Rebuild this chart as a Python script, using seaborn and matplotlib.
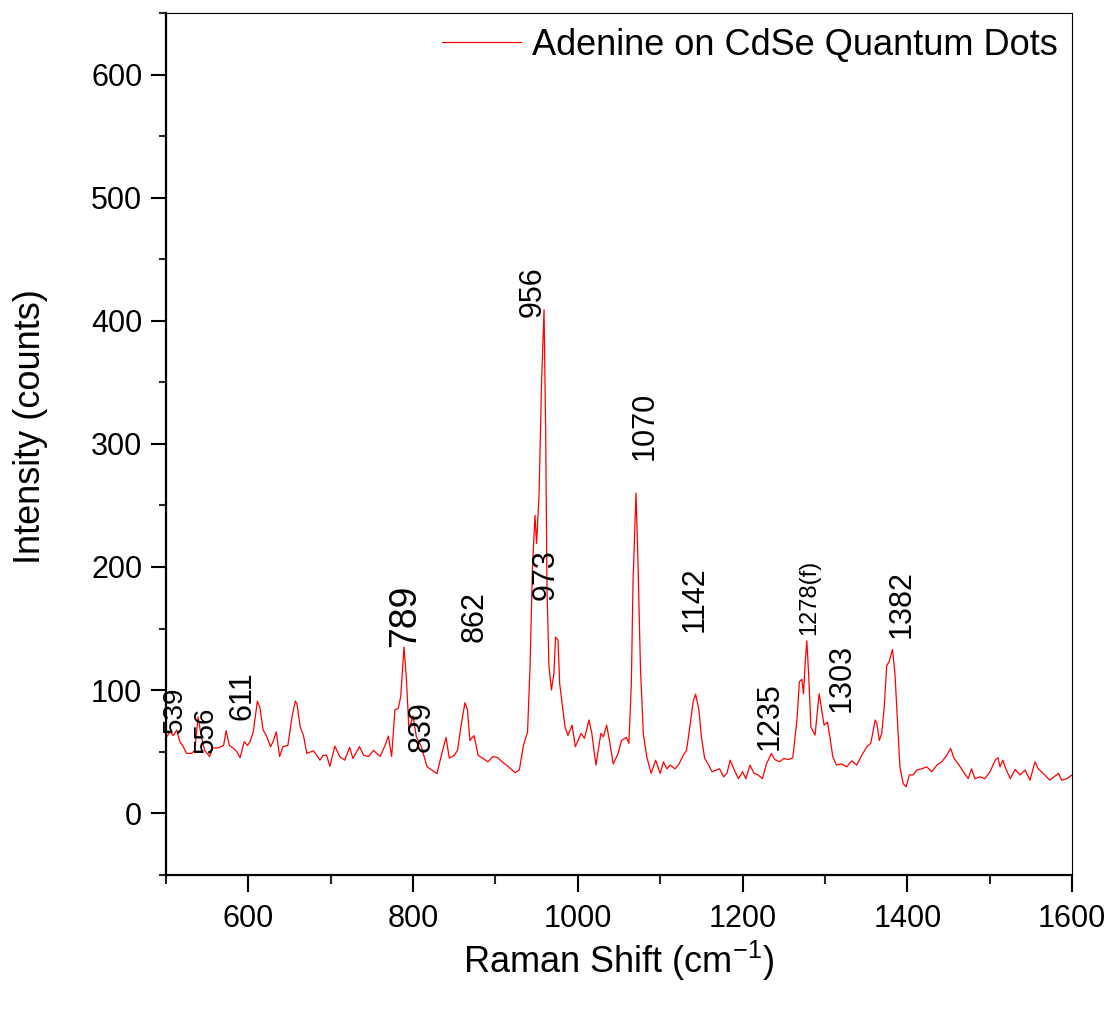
import matplotlib
matplotlib.use("Agg")

import numpy as np
import pandas as pd
import matplotlib.pyplot as plt
from matplotlib.ticker import MultipleLocator
import seaborn as sns

# spectrum
shift = [
    500, 505, 509, 513, 517, 521, 525, 531, 535, 539, 543, 547, 553, 557, 564,
    570, 573, 577, 582, 586, 590, 595, 599, 602, 606, 611, 614, 618, 622, 627,
    630, 634, 638, 642, 648, 653, 657, 659, 663, 667, 671, 679, 683, 687, 691,
    695, 699, 705, 711, 717, 723, 727, 735, 740, 746, 752, 760, 766, 770, 774,
    778, 782, 785, 789, 792, 795, 800, 804, 810, 817, 823, 829, 835, 840, 844,
    850, 854, 858, 863, 866, 869, 874, 879, 885, 891, 897, 903, 908, 916, 924,
    929, 934, 939, 942, 945, 948, 950, 953, 956, 959, 961, 962.6, 965, 968, 971,
    973, 976, 978, 981, 984.5, 988, 993, 997, 1004, 1008, 1013.6, 1017, 1022,
    1028, 1031, 1035, 1039, 1043, 1049, 1053, 1059, 1062, 1065, 1067, 1070.6,
    1073, 1076, 1079.5, 1083.7, 1089, 1094.5, 1100, 1104, 1108, 1112, 1118,
    1123, 1128, 1132, 1136, 1140, 1143, 1147, 1150, 1154, 1159, 1163, 1168,
    1172, 1177, 1181, 1185, 1190, 1195, 1200, 1204, 1209, 1214, 1219, 1224,
    1229, 1235, 1239, 1245, 1250, 1256, 1261, 1266, 1269, 1272, 1274, 1276,
    1278, 1280, 1283, 1288, 1291, 1293, 1296, 1299, 1303, 1306, 1309.5, 1314,
    1320, 1326.5, 1332.6, 1338.7, 1344.7, 1351, 1355.6, 1358, 1361, 1363, 1366,
    1369, 1372, 1375, 1378, 1382, 1385, 1388, 1391, 1395, 1398.5, 1402.5, 1407,
    1411.5, 1417.5, 1423.6, 1429.7, 1435.8, 1441.8, 1448, 1452.6, 1456.8, 1462,
    1468, 1474, 1478, 1482, 1488, 1494, 1500.5, 1506.6, 1510, 1512.6, 1516,
    1518.7, 1525, 1531, 1537, 1543, 1549, 1555, 1559, 1565, 1573, 1583.5,
    1587.5, 1593.6, 1600,
]
counts = [
    61, 66, 63, 67.5, 58, 54, 48.5, 48.5, 51, 78, 62, 51, 46, 53, 53,
    55, 67, 55, 52.6, 50, 45, 58, 55, 58, 66, 91, 86, 67.5, 63, 54,
    58, 66, 46, 54, 55, 78, 91, 89, 70, 63, 48.5, 50.6, 47, 43, 47,
    47, 38, 54.5, 46, 43, 53.4, 44.4, 54, 47, 46, 51, 46, 55, 62.6, 46,
    84, 85, 94.6, 135, 108, 67.5, 79, 62, 54, 37.6, 35, 32, 48.7, 61.5, 44.7,
    47, 51, 70, 89.7, 84, 59, 63, 47, 44.4, 41.7, 46, 45, 41.7, 37.6, 32.8,
    35, 55, 66, 119, 200, 242, 219, 260, 350, 409, 309, 181, 119, 100, 113.6,
    143, 140.6, 105, 89, 70, 63, 71.5, 54, 64.8, 60.7, 75.6, 64.8, 39,
    64.8, 62, 71.5, 56.7, 40, 48.5, 59, 61.5, 56.7, 105, 186.7, 260,
    205.7, 119, 64.8, 45.8, 32.3, 43, 32.3, 41.7, 36, 39, 36,
    40, 47, 51, 70, 90.5, 96.7, 84, 62, 44.4, 39, 33.6, 35,
    36, 29.5, 32.3, 43, 35, 28, 33.6, 28, 39, 32.3, 31, 28,
    40, 48.5, 43.5, 41.7, 44.4, 43.5, 45, 75.6, 106.7, 108.7, 97, 121.7,
    140, 116, 70, 63.4, 84, 97, 84, 71.5, 74, 62, 46, 39,
    40, 37.6, 42.5, 39, 47, 54, 56.7, 64.8, 75.6, 73, 59,
    64.8, 86.4, 120, 123, 133, 113.6, 75.6, 37.6, 24, 21.4, 31, 31,
    35, 36, 37.6, 33.6, 39, 41.7, 47, 52.6, 44.4, 40,
    33.6, 28, 36, 28, 29.5, 28, 33.6, 43, 45, 37.6, 43,
    37.6, 28, 35.4, 31, 35, 26.8, 41.7, 36, 32.3, 26.8, 32.3,
    26.8, 28, 31,
]

# peak annotations: label text, x of label, bottom of label (counts)
peak_text = ["539", "556", "611", "789", "839", "862", "956", "973",
             "1070", "1142", "1235", "1278(f)", "1303", "1382"]
peak_x = [511, 549, 593, 790, 810, 875, 945, 961, 1081, 1142, 1233, 1281, 1320, 1393]
peak_y = [65, 49, 75.6, 135, 49.6, 139, 403, 173, 287, 147, 51, 145, 82, 142]
peak_size = [20, 20, 22, 27, 22, 22, 22, 22, 22, 22, 22, 17, 22, 22]

sns.set_theme(style="ticks")
plt.rcParams["font.family"] = ["Liberation Sans", "DejaVu Sans"]
plt.rcParams["mathtext.default"] = "regular"
plt.rcParams["text.color"] = "black"
plt.rcParams["axes.labelcolor"] = "black"

df = pd.DataFrame({"shift": shift, "counts": counts})

fig = plt.figure(figsize=(11.1, 10.1), dpi=100)
ax = fig.add_axes([0.1495, 0.134, 0.8163, 0.853])

sns.lineplot(data=df, x="shift", y="counts", color="red", linewidth=0.9,
             sort=False, estimator=None, ax=ax,
             label="Adenine on CdSe Quantum Dots")

for txt, x, y, s in zip(peak_text, peak_x, peak_y, peak_size):
    ax.text(x, y, txt, rotation=90, ha="center", va="bottom", fontsize=s, color="black")

ax.set_xlim(500, 1600)
ax.set_ylim(-50, 650)
ax.xaxis.set_major_locator(MultipleLocator(200))
ax.xaxis.set_minor_locator(MultipleLocator(100))
ax.yaxis.set_major_locator(MultipleLocator(100))
ax.yaxis.set_minor_locator(MultipleLocator(50))

for side in ["left", "bottom"]:
    ax.spines[side].set_linewidth(1.6)
for side in ["top", "right"]:
    ax.spines[side].set_linewidth(0.8)
for sp in ax.spines.values():
    sp.set_color("black")

ax.tick_params(axis="x", which="major", length=12, width=1.5, direction="out",
               labelsize=22, pad=9, colors="black")
ax.tick_params(axis="x", which="minor", length=6.5, width=1.5, direction="out")
ax.tick_params(axis="y", which="major", length=11, width=1.5, direction="out",
               labelsize=22, pad=6, colors="black")
ax.tick_params(axis="y", which="minor", length=5, width=1.5, direction="out")

ax.set_xlabel("Raman Shift (cm$^{-1}$)", fontsize=26)
ax.set_ylabel("Intensity (counts)", fontsize=26)
ax.xaxis.set_label_coords(0.5, -0.075)
ax.yaxis.set_label_coords(-0.13, 0.52)

leg = ax.legend(loc="upper right", bbox_to_anchor=(1.0, 1.0), frameon=False,
                fontsize=26, handlelength=2.2, handletextpad=0.3,
                borderaxespad=0.2, borderpad=0.2)
for t in leg.get_texts():
    t.set_color("black")

fig.savefig("out.png", dpi=100)
